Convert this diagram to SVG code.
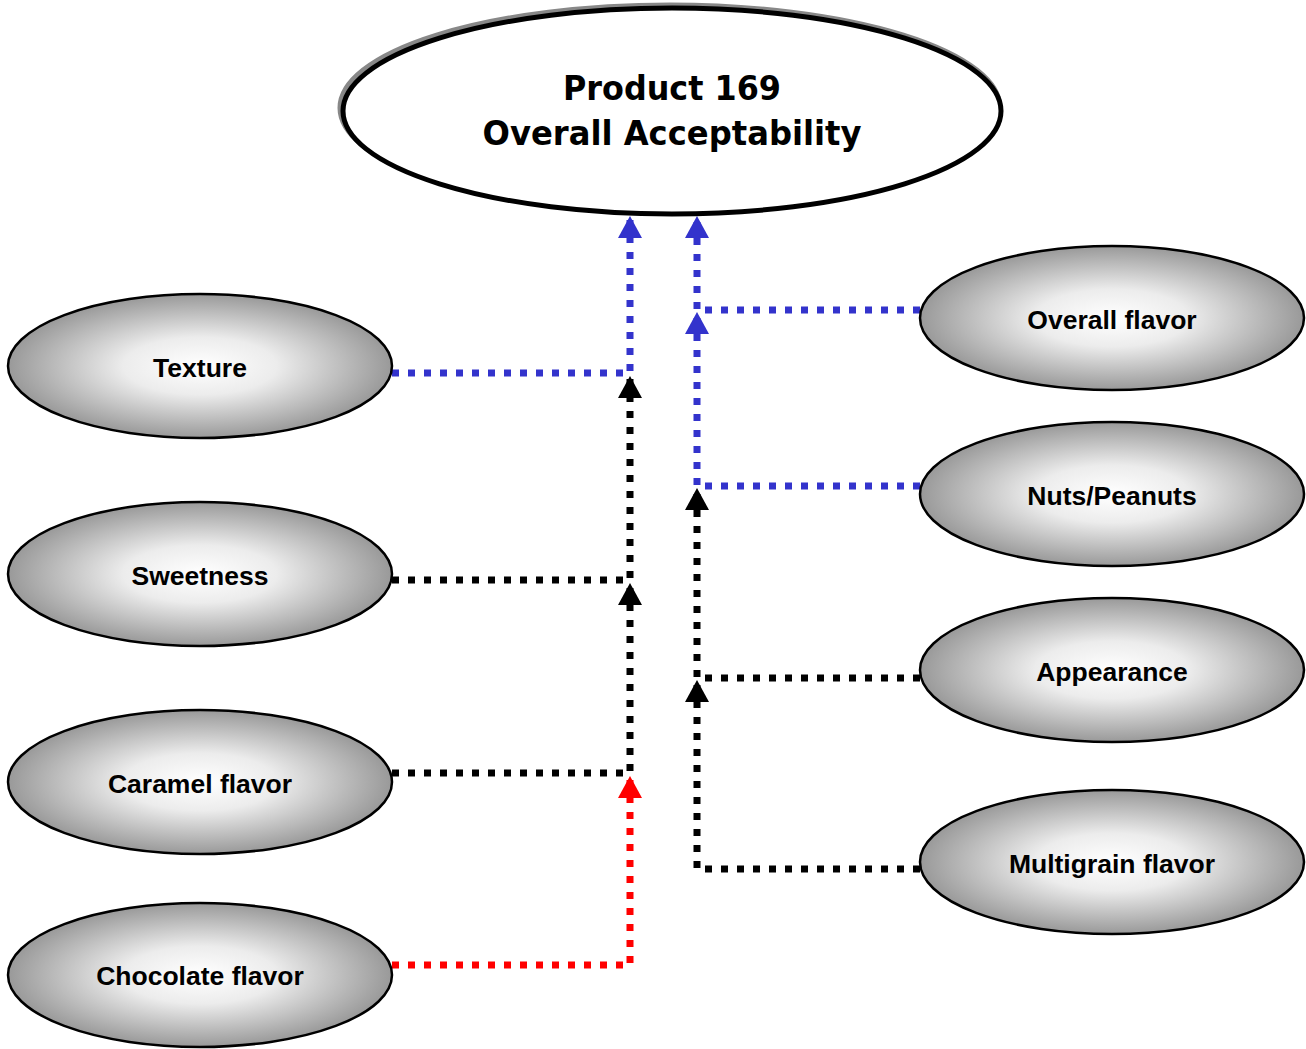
<svg xmlns="http://www.w3.org/2000/svg" width="1306" height="1049" viewBox="0 0 1306 1049">
<defs>
<radialGradient id="g" cx="50%" cy="50%" r="50%">
<stop offset="0" stop-color="#ffffff"/>
<stop offset="0.4" stop-color="#ececec"/>
<stop offset="1" stop-color="#999999"/>
</radialGradient>
<marker id="ab" viewBox="0 -12 22 24" refX="22" refY="0" markerWidth="22" markerHeight="24" markerUnits="userSpaceOnUse" orient="auto"><path d="M0,-12 L22,0 L0,12 z" fill="#3333cc"/></marker>
<marker id="ak" viewBox="0 -12 22 24" refX="22" refY="0" markerWidth="22" markerHeight="24" markerUnits="userSpaceOnUse" orient="auto"><path d="M0,-12 L22,0 L0,12 z" fill="#000000"/></marker>
<marker id="ar" viewBox="0 -12 22 24" refX="22" refY="0" markerWidth="22" markerHeight="24" markerUnits="userSpaceOnUse" orient="auto"><path d="M0,-12 L22,0 L0,12 z" fill="#ff0000"/></marker>
</defs>
<style>
.n{fill:url(#g);stroke:#000;stroke-width:2.5}
.t{font-family:"Liberation Sans",Arial,sans-serif;font-weight:bold;font-size:26.5px;text-anchor:middle;fill:#000}
.c{fill:none;stroke-width:7;stroke-dasharray:7 9}
.b{stroke:#3333cc}
.k{stroke:#000}
.r{stroke:#ff0000}
.h{font-family:"DejaVu Sans","Liberation Sans",sans-serif;font-weight:bold;font-stretch:condensed;font-size:33px;text-anchor:middle;fill:#000}
</style>
<rect width="1306" height="1049" fill="#fff"/>
<g id="connectors">
<path class="c b" d="M392,373 H630 V216" marker-end="url(#ab)"/>
<path class="c k" d="M392,580 H630 V376" marker-end="url(#ak)"/>
<path class="c k" d="M392,773 H630 V583" marker-end="url(#ak)"/>
<path class="c r" d="M392,965 H630 V776" marker-end="url(#ar)"/>
<path class="c b" d="M920,310 H697 V216" marker-end="url(#ab)"/>
<path class="c b" d="M920,486 H697 V312" marker-end="url(#ab)"/>
<path class="c k" d="M920,678 H697 V488" marker-end="url(#ak)"/>
<path class="c k" d="M920,869 H697 V680" marker-end="url(#ak)"/>
</g>
<g id="product">
<ellipse cx="670" cy="108" rx="330" ry="103" fill="none" stroke="#888" stroke-width="5"/>
<ellipse cx="672" cy="111" rx="329" ry="103" fill="#fff" stroke="#000" stroke-width="5"/>
<text class="h" x="672" y="100" textLength="218" lengthAdjust="spacingAndGlyphs">Product 169</text>
<text class="h" x="672" y="145" textLength="379" lengthAdjust="spacingAndGlyphs">Overall Acceptability</text>
</g>
<g id="texture"><ellipse class="n" cx="200" cy="366" rx="192" ry="72"/><text class="t" x="200" y="377">Texture</text></g>
<g id="sweetness"><ellipse class="n" cx="200" cy="574" rx="192" ry="72"/><text class="t" x="200" y="585">Sweetness</text></g>
<g id="caramel"><ellipse class="n" cx="200" cy="782" rx="192" ry="72"/><text class="t" x="200" y="793">Caramel flavor</text></g>
<g id="chocolate"><ellipse class="n" cx="200" cy="975" rx="192" ry="72"/><text class="t" x="200" y="985">Chocolate flavor</text></g>
<g id="overall-flavor"><ellipse class="n" cx="1112" cy="318" rx="192" ry="72"/><text class="t" x="1112" y="329">Overall flavor</text></g>
<g id="nuts"><ellipse class="n" cx="1112" cy="494" rx="192" ry="72"/><text class="t" x="1112" y="505">Nuts/Peanuts</text></g>
<g id="appearance"><ellipse class="n" cx="1112" cy="670" rx="192" ry="72"/><text class="t" x="1112" y="681">Appearance</text></g>
<g id="multigrain"><ellipse class="n" cx="1112" cy="862" rx="192" ry="72"/><text class="t" x="1112" y="873">Multigrain flavor</text></g>
</svg>
